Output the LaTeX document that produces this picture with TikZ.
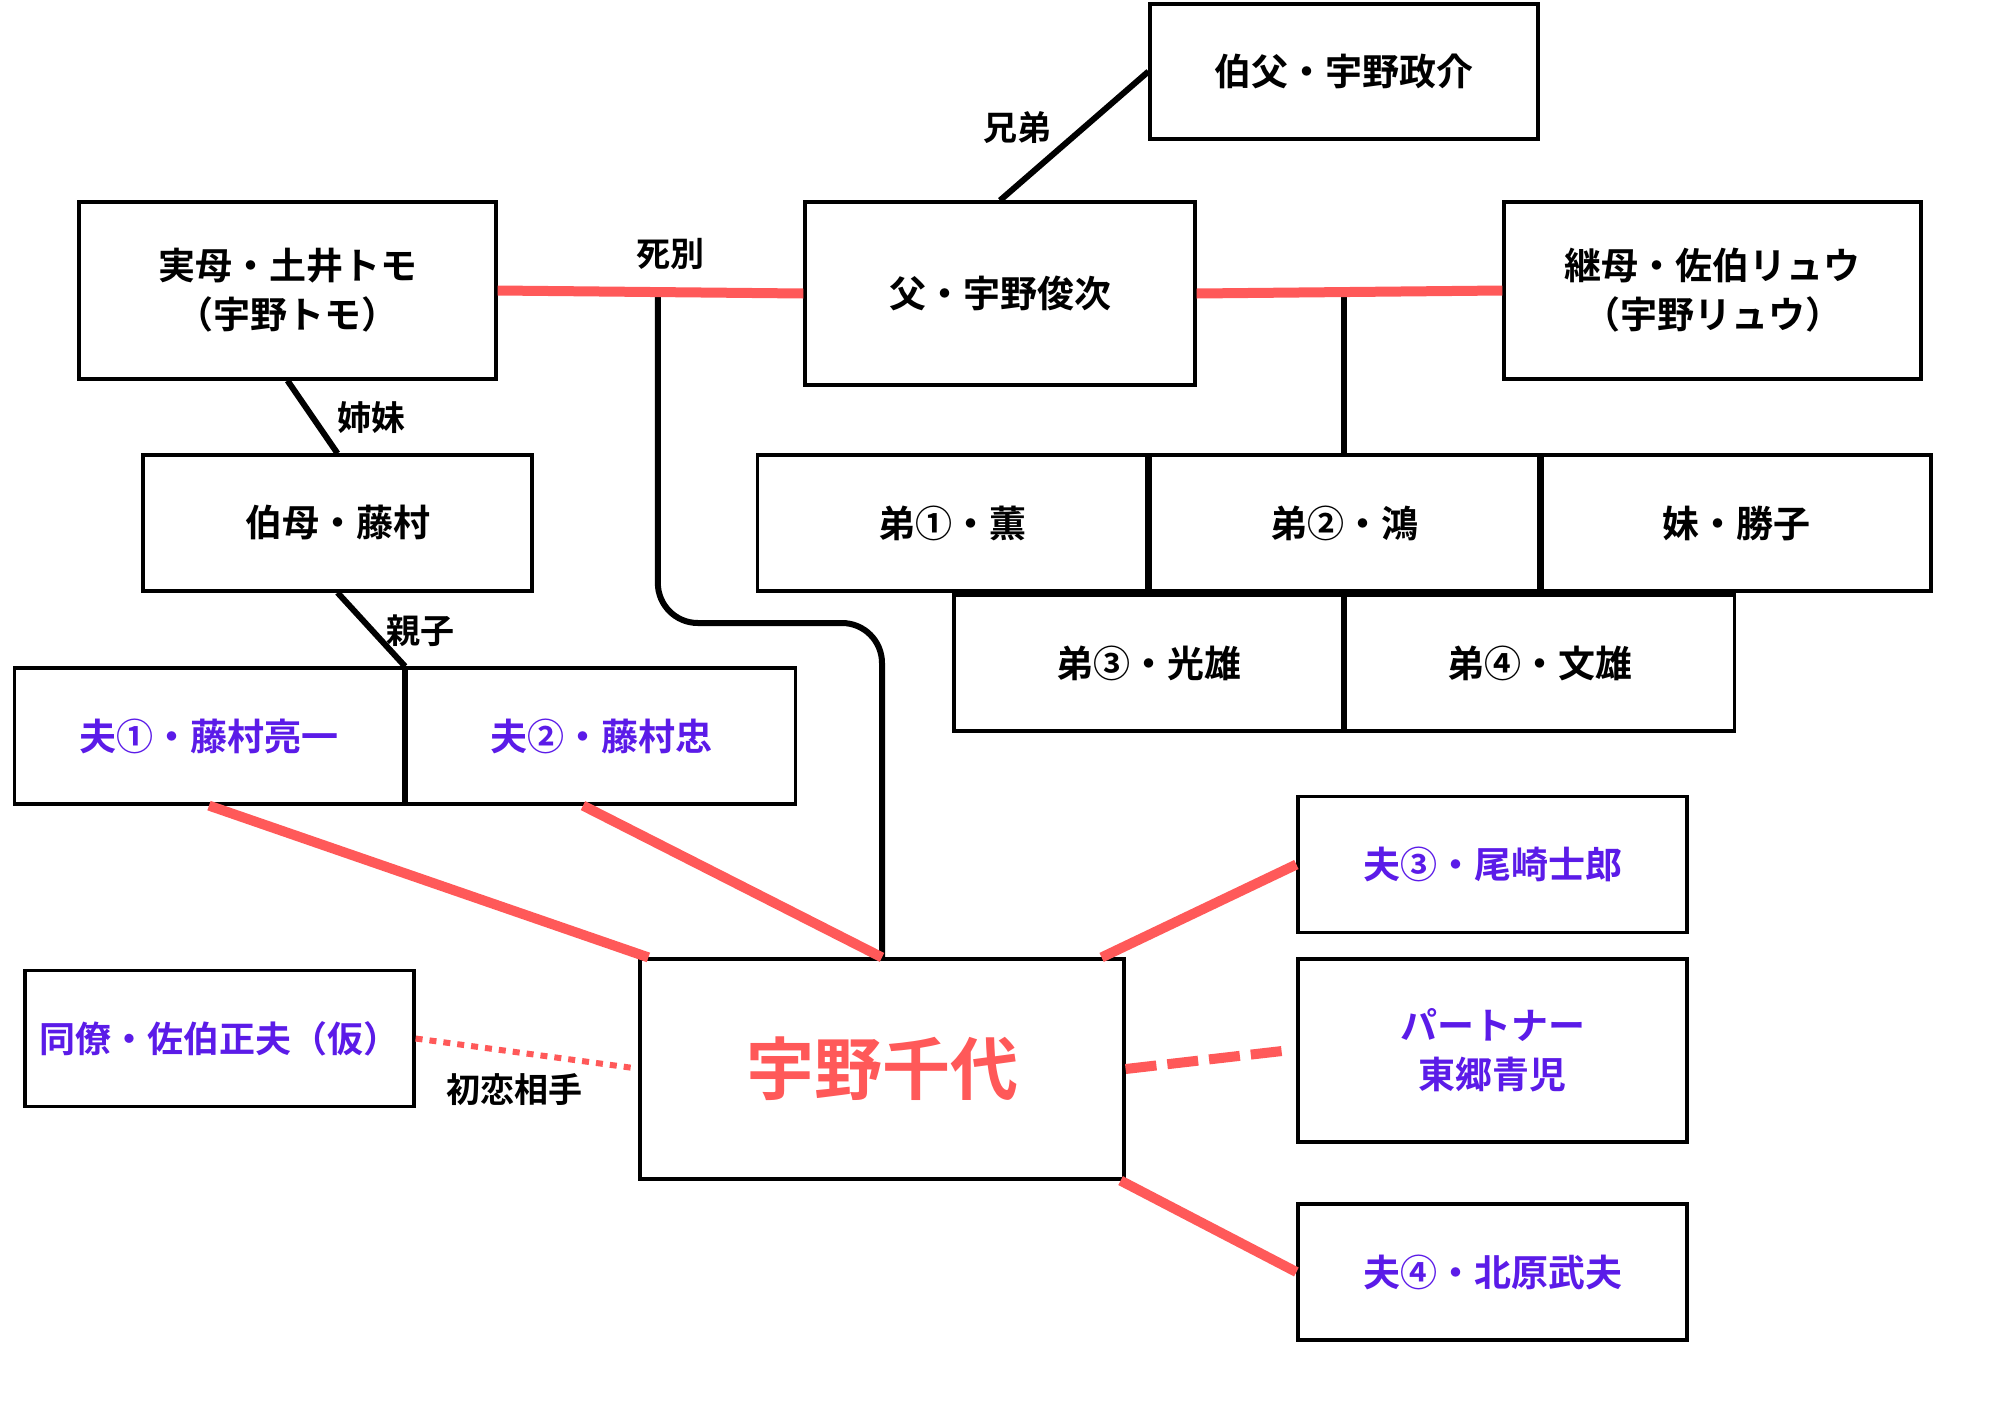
\documentclass[tikz,border=0pt]{standalone}
\usepackage{fontspec}
\setmainfont{Noto Sans CJK JP}[BoldFont={Noto Sans CJK JP Bold}]
\usetikzlibrary{calc}
\definecolor{rel}{RGB}{255,89,89}
\definecolor{pur}{RGB}{91,27,232}
\begin{document}
\begin{tikzpicture}[x=0.5pt,y=-0.5pt,
  box/.style={draw=black, line width=1.6pt, fill=white, inner sep=0pt, align=center,
    font=\bfseries\fontsize{18.5}{24.5}\selectfont},
  sbox/.style={box, minimum width=194.5pt, minimum height=68pt},
  pbox/.style={sbox, text=pur},
  lbl/.style={font=\bfseries\fontsize{17}{20}\selectfont, inner sep=0pt},
  kin/.style={line width=3pt, black},
  wed/.style={line width=5pt, rel}]
\useasboundingbox (0,0) rectangle (1999,1414);
% boxes
\node[box, minimum width=194pt, minimum height=67.5pt] (uncle) at (1344,71.5) {伯父・宇野政介};
\node[box, minimum width=208.5pt, minimum height=88.5pt] (mother) at (287.5,290.5) {実母・土井トモ\\（宇野トモ）};
\node[box, minimum width=195pt, minimum height=91.5pt] (father) at (1000,293.5) {父・宇野俊次};
\node[box, minimum width=208.5pt, minimum height=88.5pt] (step) at (1712.5,290.5) {継母・佐伯リュウ\\（宇野リュウ）};
\node[sbox] (aunt) at (337.5,523) {伯母・藤村};
\node[sbox] (b1) at (952,523) {弟①・薫};
\node[sbox] (b2) at (1344.5,523) {弟②・鴻};
\node[sbox] (sis) at (1736.5,523) {妹・勝子};
\node[sbox] (b3) at (1148.5,663) {弟③・光雄};
\node[sbox] (b4) at (1540,663) {弟④・文雄};
\node[pbox] (h1) at (209,736) {夫①・藤村亮一};
\node[pbox] (h2) at (601,736) {夫②・藤村忠};
\node[pbox, font=\bfseries\fontsize{18}{24}\selectfont] (col) at (219.5,1038.5) {同僚・佐伯正夫（仮）};
\node[box, minimum width=242pt, minimum height=110pt, text=rel, font=\bfseries\fontsize{34}{40}\selectfont] (chiyo) at (882,1069) {宇野千代};
\node[pbox] (h3) at (1492.5,864.5) {夫③・尾崎士郎};
\node[pbox, minimum height=91.5pt] (partner) at (1492.5,1050.5) {パートナー\\東郷青児};
\node[pbox] (h4) at (1492.5,1272) {夫④・北原武夫};
% junction points
\coordinate (m1) at ($(mother.east)!0.524!(father.west)$);
\coordinate (m2) at ($(father.east)!0.481!(step.west)$);
\coordinate (bend) at (882,623);
% black kinship lines
\draw[kin] (father.north) -- (uncle.west);
\draw[kin] (mother.south) -- (aunt.north);
\draw[kin] (aunt.south) -- (h1.north east);
\draw[kin, rounded corners=20pt] (m1) |- (bend) -- (chiyo.north);
\draw[kin] (m2) -- (m2 |- b2.north);
% red lines
\draw[wed] (mother.east) -- (father.west);
\draw[wed] (father.east) -- (step.west);
\draw[wed] (h1.south) -- ($(chiyo.north west)+(10,0)$);
\draw[wed] ($(h2.south)+(-18,0)$) -- (chiyo.north);
\draw[wed] ($(chiyo.north east)+(-24,0)$) -- (h3.west);
\draw[wed] ($(chiyo.south east)+(-5,0)$) -- (h4.west);
\draw[wed, dash pattern=on 15.5pt off 5.5pt] (chiyo.east) -- ($(partner.west)+(-10,0)$);
\draw[rel, line width=3pt, dash pattern=on 3.5pt off 3.5pt] (col.east) -- ($(chiyo.west)+(-5,-1)$);
% labels
\node[lbl] (l1) at (1017,128) {兄弟};
\node[lbl] (l2) at (670,254) {死別};
\node[lbl] (l3) at (371,418) {姉妹};
\node[lbl] (l4) at (420,631) {親子};
\node[lbl] (l5) at (514,1090) {初恋相手};
\end{tikzpicture}
\end{document}
